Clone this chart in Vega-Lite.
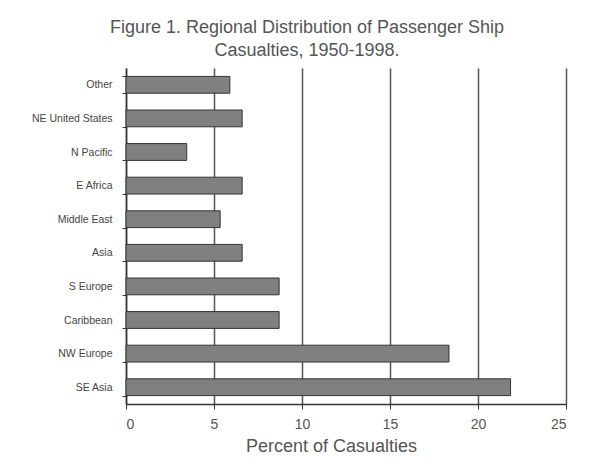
{
  "$schema": "https://vega.github.io/schema/vega-lite/v6.json",
  "autosize": "none",
  "width": 440,
  "height": 336,
  "padding": {"left": 126, "top": 68, "right": 28, "bottom": 60},
  "background": "white",
  "title": {
    "text": ["Figure 1. Regional Distribution of Passenger Ship", "Casualties, 1950-1998."],
    "font": "Liberation Sans",
    "fontSize": 18,
    "fontWeight": "normal",
    "color": "#555555",
    "anchor": "middle",
    "dx": -39,
    "lineHeight": 23,
    "offset": 3
  },
  "data": {
    "values": [
      {"region": "Other", "pct": 5.9},
      {"region": "NE United States", "pct": 6.6},
      {"region": "N Pacific", "pct": 3.45},
      {"region": "E Africa", "pct": 6.6},
      {"region": "Middle East", "pct": 5.35},
      {"region": "Asia", "pct": 6.6},
      {"region": "S Europe", "pct": 8.7},
      {"region": "Caribbean", "pct": 8.7},
      {"region": "NW Europe", "pct": 18.35},
      {"region": "SE Asia", "pct": 21.85}
    ]
  },
  "mark": {"type": "bar", "fill": "#808080", "stroke": "#333333", "strokeWidth": 1},
  "encoding": {
    "y": {
      "field": "region",
      "type": "nominal",
      "sort": null,
      "scale": {"paddingInner": 0.5, "paddingOuter": 0.25},
      "axis": {
        "title": null,
        "tickBand": "extent",
        "tickSize": 4,
        "tickColor": "#333333",
        "domainColor": "#333333",
        "domainWidth": 1.5,
        "labelFont": "Liberation Sans",
        "labelFontSize": 10.5,
        "labelColor": "#444444",
        "labelPadding": 10,
        "grid": false
      }
    },
    "x": {
      "field": "pct",
      "type": "quantitative",
      "scale": {"domain": [0, 25], "nice": false},
      "axis": {
        "title": "Percent of Casualties",
        "titleFont": "Liberation Sans",
        "titleFontSize": 18,
        "titleFontWeight": "normal",
        "titleColor": "#555555",
        "titleX": 205,
        "titleY": 42,
        "titleBaseline": "middle",
        "values": [0, 5, 10, 15, 20, 25],
        "tickSize": 5,
        "tickColor": "#333333",
        "domainColor": "#333333",
        "domainWidth": 1.5,
        "labelFont": "Liberation Sans",
        "labelFontSize": 14,
        "labelColor": "#555555",
        "labelPadding": 8,
        "grid": true,
        "gridColor": "#555555",
        "gridWidth": 1.5,
        "gridOpacity": 1
      }
    }
  },
  "config": {"view": {"stroke": null}}
}
